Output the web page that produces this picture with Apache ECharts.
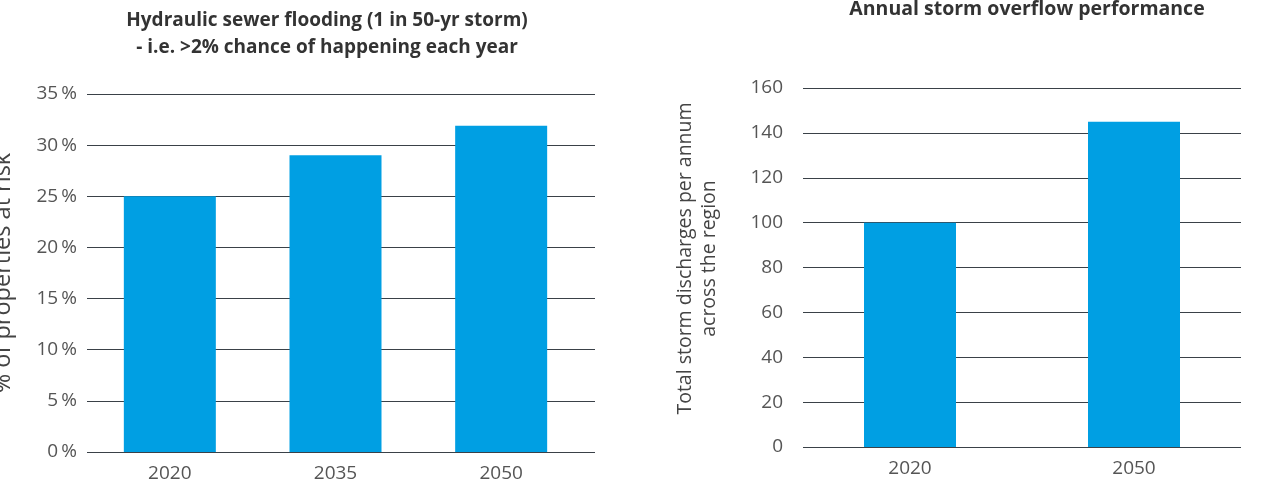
<!DOCTYPE html>
<html><head><meta charset="utf-8">
<script src="https://cdn.jsdelivr.net/npm/echarts@6/dist/echarts.min.js"></script>
<style>html,body{margin:0;padding:0;background:#fff}#c{width:1271px;height:485px}</style>
</head><body><div id="c"></div>
<script>
const leftCategories = ['2020', '2035', '2050'];
const leftValues = [25, 29, 31.9];
const leftTicks = [0, 5, 10, 15, 20, 25, 30, 35];
const rightCategories = ['2020', '2050'];
const rightValues = [100, 145];
const rightTicks = [0, 20, 40, 60, 80, 100, 120, 140, 160];

const FONT = 'Open Sans';
const BLUE = '#009fe3';
const chart = echarts.init(document.getElementById('c'));
const tickStyle = {color: '#555', fontSize: 19, fontFamily: FONT};
const hidden = {axisLine: {show: false}, axisTick: {show: false}, axisLabel: {show: false}, splitLine: {show: false}};
const gridLine = {lineStyle: {color: '#3a4148', width: 1}};
chart.setOption({
  animation: false,
  title: [
    {text: 'Hydraulic sewer flooding (1 in 50-yr storm)\n- i.e. >2% chance of happening each year',
     left: 322, top: 2, textAlign: 'center',
     textStyle: {fontFamily: FONT, fontSize: 19, fontWeight: 'bold', color: '#333', lineHeight: 27}},
    {text: 'Annual storm overflow performance', left: 1022, top: -6, textAlign: 'center',
     textStyle: {fontFamily: FONT, fontSize: 19.5, fontWeight: 'bold', color: '#333'}}
  ],
  grid: [
    {left: 87, top: 94, width: 497, height: 358, outerBoundsMode: 'none', containLabel: false},
    {left: 87, top: 94, width: 508, height: 358, outerBoundsMode: 'none', containLabel: false},
    {left: 798, top: 88, width: 448, height: 359, outerBoundsMode: 'none', containLabel: false},
    {left: 803, top: 88, width: 438, height: 359, outerBoundsMode: 'none', containLabel: false}
  ],
  xAxis: [
    {type: 'category', gridIndex: 0, data: leftCategories,
     axisLine: {show: false}, axisTick: {show: false},
     axisLabel: Object.assign({margin: 12}, tickStyle)},
    Object.assign({type: 'category', gridIndex: 1, data: leftCategories}, hidden),
    {type: 'category', gridIndex: 2, data: rightCategories,
     axisLine: {show: false}, axisTick: {show: false},
     axisLabel: Object.assign({margin: 12}, tickStyle)},
    Object.assign({type: 'category', gridIndex: 3, data: rightCategories}, hidden)
  ],
  yAxis: [
    Object.assign({type: 'value', gridIndex: 0, min: leftTicks[0], max: leftTicks[leftTicks.length-1], interval: 5}, hidden),
    {type: 'value', gridIndex: 1, min: leftTicks[0], max: leftTicks[leftTicks.length-1], interval: 5,
     name: '% of properties at risk', nameLocation: 'middle', nameGap: 72,
     nameTextStyle: {fontFamily: FONT, fontSize: 23.5, color: '#444'},
     axisLine: {show: false}, axisTick: {show: false},
     axisLabel: Object.assign({margin: 10, formatter: '{value}\u2009%'}, tickStyle),
     splitLine: gridLine},
    Object.assign({type: 'value', gridIndex: 2, min: rightTicks[0], max: rightTicks[rightTicks.length-1], interval: 20}, hidden),
    {type: 'value', gridIndex: 3, min: rightTicks[0], max: rightTicks[rightTicks.length-1], interval: 20,
     name: 'Total storm discharges per annum\nacross the region', nameLocation: 'middle', nameGap: 82,
     nameTextStyle: {fontFamily: FONT, fontSize: 19.5, color: '#444', lineHeight: 24, padding: [0, 0, 0, 18]},
     axisLine: {show: false}, axisTick: {show: false},
     axisLabel: Object.assign({margin: 20}, tickStyle),
     splitLine: gridLine}
  ],
  series: [
    {type: 'bar', xAxisIndex: 0, yAxisIndex: 0, data: leftValues, barWidth: 92, z: 3,
     itemStyle: {color: BLUE}},
    {type: 'bar', xAxisIndex: 2, yAxisIndex: 2, data: rightValues, barWidth: 92, z: 3,
     itemStyle: {color: BLUE}}
  ]
});
</script></body></html>
